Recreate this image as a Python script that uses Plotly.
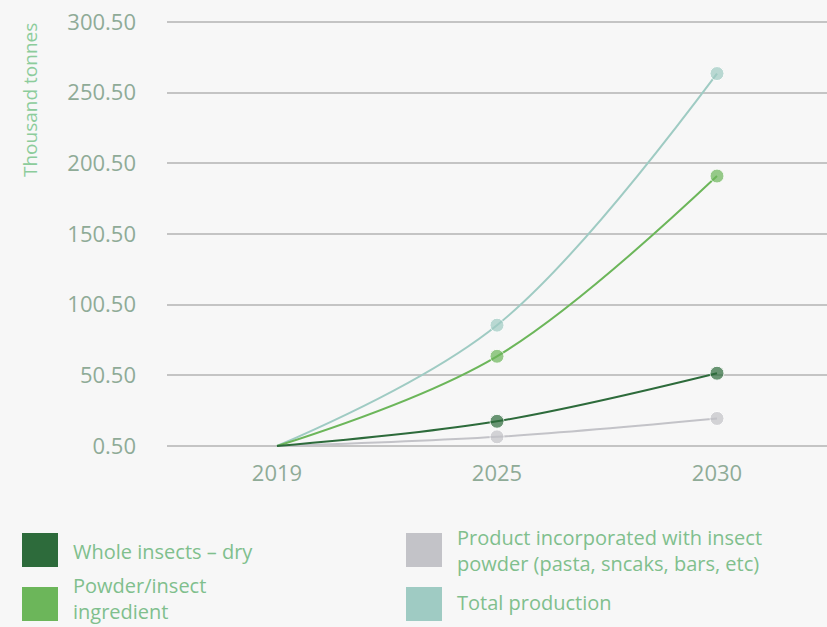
import plotly.graph_objects as go

# Projected edible-insect production (thousand tonnes)
years = ["2019", "2025", "2030"]
whole_insects = [0.5, 18.0, 52.0]
powder_ingredient = [0.5, 64.0, 191.5]
incorporated_products = [0.5, 7.0, 20.0]
total_production = [0.5, 86.0, 264.0]

y_ticks = [0.5, 50.5, 100.5, 150.5, 200.5, 250.5, 300.5]
y_tick_text = ["0.50", "50.50", "100.50", "150.50", "200.50", "250.50", "300.50"]

series_names = [
    "Product incorporated with insect powder (pasta, sncaks, bars, etc)",
    "Total production",
    "Powder/insect ingredient",
    "Whole insects \u2013 dry",
]
series_values = [incorporated_products, total_production, powder_ingredient, whole_insects]
series_colors = ["#c3c3c8", "#9fcbc3", "#6cb65a", "#2d6b3b"]

BG = "#f7f7f7"
TICK_COLOR = "#8fab97"
LEGEND_TEXT = "#80bf8d"
FONT = "Open Sans"

# plot area geometry (pixels)
PL, PR, PT, PB = 167, 827, 19, 449

fig = go.Figure()
for name, vals, col in zip(series_names, series_values, series_colors):
    fig.add_trace(go.Scatter(
        x=years, y=vals, name=name, mode="lines+markers",
        line=dict(color=col, width=2, shape="spline"),
        marker=dict(color=col, size=[0, 14, 14]),
        cliponaxis=False, showlegend=False,
    ))

fig.update_layout(
    width=827, height=627,
    margin=dict(l=PL, r=827 - PR, t=PT, b=627 - PB),
    paper_bgcolor=BG, plot_bgcolor=BG,
    font=dict(family=FONT, color=TICK_COLOR),
    xaxis=dict(
        type="category", range=[-0.5, 2.5], showgrid=False, zeroline=False,
        showline=False, ticks="", tickfont=dict(size=22, color=TICK_COLOR),
        ticklabelstandoff=9,
    ),
    yaxis=dict(
        range=[-1.6, 302.6], tickvals=y_ticks, ticktext=y_tick_text,
        showgrid=True, gridcolor="#c4c4c4", gridwidth=1.5, zeroline=False,
        showline=False, tickfont=dict(size=22, color=TICK_COLOR),
        ticklabelstandoff=30,
    ),
)

W = PR - PL
H = PB - PT


def px_x(x):
    return (x - PL) / W


def px_y(y):
    return (PB - y) / H


# Rotated axis caption near the top of the value axis
fig.add_annotation(
    text="Thousand tonnes", xref="paper", yref="paper",
    x=px_x(30), y=px_y(100), textangle=-90,
    showarrow=False, font=dict(size=19, color="#8ccc9b", family=FONT),
    xanchor="center", yanchor="middle",
)

# Custom legend: colour squares with labels below the plot
legend_items = [
    (series_colors[3], 22, 533, "Whole insects \u2013 dry", 551),
    (series_colors[2], 22, 587, "Powder/insect<br>ingredient", 598),
    (series_colors[0], 406, 533, "Product incorporated with insect<br>"
                                 "powder (pasta, sncaks, bars, etc)", 550),
    (series_colors[1], 406, 587, "Total production", 602),
]
for col, x0, y0, txt, yy in legend_items:
    fig.add_shape(
        type="rect", xref="paper", yref="paper",
        x0=px_x(x0), x1=px_x(x0 + 36), y0=px_y(y0), y1=px_y(y0 + 34),
        fillcolor=col, line=dict(width=0),
    )
    fig.add_annotation(
        text=txt, xref="paper", yref="paper", x=px_x(x0 + 49), y=px_y(yy),
        xanchor="left", yanchor="middle", align="left", showarrow=False,
        font=dict(size=20, color=LEGEND_TEXT, family=FONT),
    )

fig.write_html("out.html")
